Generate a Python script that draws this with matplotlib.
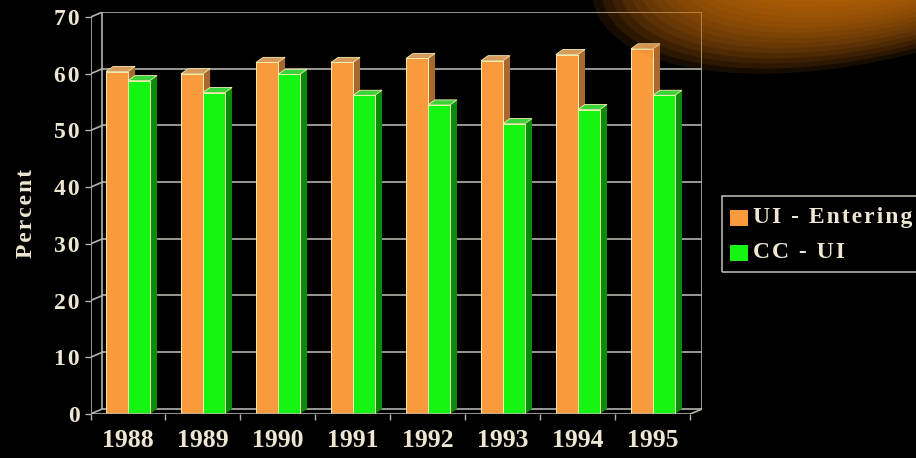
import matplotlib.pyplot as plt
from matplotlib.patches import Polygon, Rectangle, Ellipse
from matplotlib.transforms import IdentityTransform
import numpy as np

years = ['1988', '1989', '1990', '1991', '1992', '1993', '1994', '1995']
ui_entering = [60.4, 60.0, 62.0, 62.0, 62.7, 62.3, 63.4, 64.4]
cc_ui = [58.8, 56.7, 59.9, 56.2, 54.5, 51.2, 53.7, 56.2]
series_names = ['UI - Entering', 'CC - UI']

txt = '#ece6d2'
grid = '#b4b4ac'
font = ['Liberation Serif', 'DejaVu Serif']
HS = '\u200a'  # hair space, for the wide letter spacing


def spaced(s):
    return HS.join(s)


fig = plt.figure(figsize=(9.16, 4.58), dpi=100, facecolor='black')

# orange glow in the top right corner (display pixels, y up)
N = 18
for k in range(N):
    t = k / (N - 1)
    fig.add_artist(Ellipse((880 + 20 * t, 525 + 20 * t), 590 - 270 * t, 250 - 120 * t,
                           angle=14, transform=IdentityTransform(),
                           facecolor='#d2720e', edgecolor='none', alpha=0.11))

ax = fig.add_axes([0.0988, 0.0961, 0.668, 0.8777])
ax.set_facecolor('none')
for s in ax.spines.values():
    s.set_visible(False)

n = len(years)
x = np.arange(n)
x0, x1 = -0.5, n - 0.5
wdx, wdy = 0.16, 0.9   # wall depth
bdx, bdy = 0.095, 0.9  # bar depth
bw = 0.293

ax.set_xlim(x0, x1 + wdx)
ax.set_ylim(0, 70 + wdy)

# walls and gridlines
for v in range(0, 80, 10):
    ax.plot([x0 + wdx, x1 + wdx], [v + wdy, v + wdy], color=grid, lw=1.2, zorder=1)
    ax.plot([x0, x0 + wdx], [v, v + wdy], color=grid, lw=1.2, zorder=1)
ax.plot([x0 + wdx, x0 + wdx], [wdy, 70 + wdy], color=grid, lw=1.2, zorder=1)
ax.plot([x1 + wdx, x1 + wdx], [wdy, 70 + wdy], color=grid, lw=1.2, zorder=1)
ax.plot([x0, x0], [0, 70], color=grid, lw=1.2, zorder=1)
ax.plot([x0, x1], [0, 0], color=grid, lw=1.2, zorder=40)
ax.plot([x1, x1 + wdx], [0, wdy], color=grid, lw=1.2, zorder=40)

faces = [('#f99a3c', '#a9692e', '#d79a5c'), ('#14f514', '#0a8c0a', '#3ad43a')]
edge = '#f4f0b0'
z = 2
for i in range(n):
    for j, vals in enumerate([ui_entering, cc_ui]):
        left = x[i] - bw + j * bw
        v = vals[i]
        f, sd, tp = faces[j]
        ax.add_patch(Polygon([(left + bw, 0), (left + bw + bdx, bdy), (left + bw + bdx, v + bdy),
                              (left + bw, v)], closed=True, facecolor=sd, edgecolor='none', zorder=z))
        ax.add_patch(Polygon([(left, v), (left + bdx, v + bdy), (left + bw + bdx, v + bdy),
                              (left + bw, v)], closed=True, facecolor=tp, edgecolor=edge, lw=0.6, zorder=z))
        ax.bar(left, v, width=bw, align='edge', color=f, edgecolor=edge, lw=0.7, zorder=z + 1)
        z += 2

ax.set_yticks(range(0, 80, 10))
ax.set_yticklabels([spaced(str(v)) for v in range(0, 80, 10)], fontfamily=font,
                   fontweight='bold', fontsize=17, color=txt)
ax.tick_params(axis='y', direction='out', length=4, width=1, color=grid, pad=4)
ax.set_xticks(x)
ax.set_xticklabels(years, fontfamily=font, fontweight='bold', fontsize=18.5, color=txt)
ax.set_xticks(np.arange(n + 1) - 0.5, minor=True)
ax.tick_params(axis='x', which='major', length=0, pad=11)
ax.tick_params(axis='x', which='minor', direction='out', length=4, width=1, color=grid)
ax.set_ylabel(spaced('Percent'), fontfamily=font, fontweight='bold', fontsize=17,
              color=txt, labelpad=12)

# legend
fig.add_artist(Rectangle((722 / 916, 1 - 272 / 458), 0.3, 76 / 458, transform=fig.transFigure,
                         facecolor='none', edgecolor=grid, lw=1.2))
for j, name in enumerate(series_names):
    yc = 1 - (218 + 35 * j) / 458
    fig.add_artist(Rectangle((730 / 916, yc - 8 / 458), 18 / 916, 16 / 458,
                             transform=fig.transFigure, facecolor=faces[j][0],
                             edgecolor='none'))
    fig.text(753 / 916, yc, spaced(name), fontfamily=font, fontweight='bold', fontsize=17,
             color=txt, va='center', ha='left')

fig.savefig('out.png', dpi=100, facecolor='black')
